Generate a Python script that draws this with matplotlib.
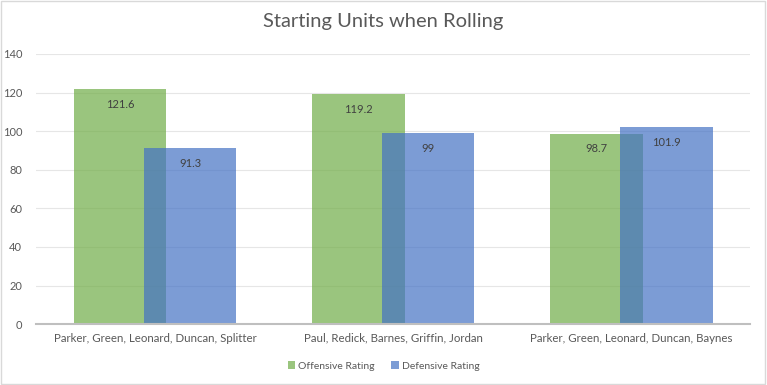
import numpy as np
import matplotlib.pyplot as plt
from matplotlib.patches import Rectangle

plt.rcParams['font.family'] = ['Lato', 'DejaVu Sans']

# data
lineups = ['Parker, Green, Leonard, Duncan, Splitter',
           'Paul, Redick, Barnes, Griffin, Jordan',
           'Parker, Green, Leonard, Duncan, Baynes']
offensive = [121.6, 119.2, 98.7]
defensive = [91.3, 99, 101.9]

fig = plt.figure(figsize=(7.67, 3.85), dpi=100)
ax = fig.add_axes([0.047, 0.158, 0.931, 0.702])

x = np.arange(len(lineups))
w = 0.39
off = 0.147
b1 = ax.bar(x - off, offensive, w, color='#70AD47', alpha=0.7, label='Offensive Rating', zorder=2)
b2 = ax.bar(x + off, defensive, w, color='#4472C4', alpha=0.7, label='Defensive Rating', zorder=3)

for bars, vals in ((b1, offensive), (b2, defensive)):
    for r, v in zip(bars, vals):
        ax.annotate(f'{v:g}', (r.get_x() + r.get_width() / 2, v), xytext=(0, -7),
                    textcoords='offset points', ha='center', va='top',
                    fontsize=8, color='#404040', zorder=5)

ax.set_xlim(-0.5, 2.5)
ax.set_ylim(0, 140)
ax.set_yticks(range(0, 141, 20))
ax.set_xticks(x)
ax.set_xticklabels(lineups)
ax.tick_params(axis='both', length=0, labelsize=8, labelcolor='#595959')
ax.tick_params(axis='x', labelsize=8.3, pad=6)
ax.tick_params(axis='y', pad=10)
ax.grid(axis='y', color='#E6E6E6', linewidth=0.8, zorder=0)
for s in ['top', 'right', 'left']:
    ax.spines[s].set_visible(False)
ax.spines['bottom'].set_color('#BFBFBF')
ax.spines['bottom'].set_linewidth(1.5)
ax.spines['bottom'].set_zorder(4)

fig.suptitle('Starting Units when Rolling', y=0.965, fontsize=14.5, color='#595959', fontweight='normal')

fig.legend(loc='center', bbox_to_anchor=(0.5, 0.049), ncol=2, frameon=False,
           fontsize=7.5, labelcolor='#595959', handlelength=0.7, handleheight=0.7,
           handletextpad=0.3, columnspacing=1.6)

fig.patches.append(Rectangle((0.001, 0.003), 0.997, 0.994, transform=fig.transFigure,
                             fill=False, edgecolor='#D9D9D9', linewidth=1))

fig.savefig('out.png', dpi=100)
